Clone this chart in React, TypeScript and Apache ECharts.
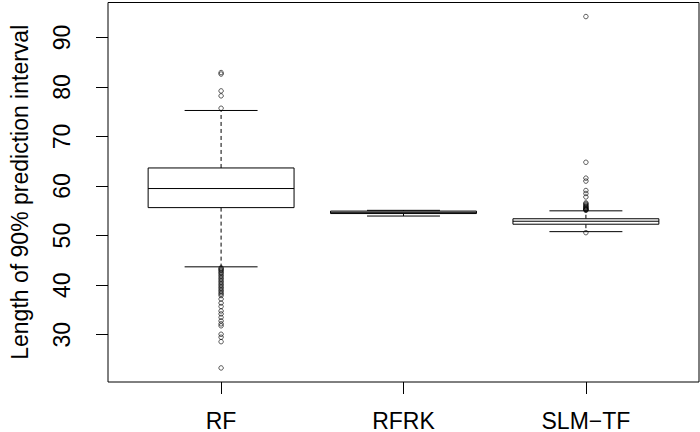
import React, { useEffect, useRef } from 'react';
import * as echarts from 'echarts';

const categories = ['RF', 'RFRK', 'SLM\u2212TF'];
// [lower whisker, Q1, median, Q3, upper whisker]
const rfStats = [43.7, 55.65, 59.5, 63.65, 75.25];
const rfrkStats = [53.95, 54.45, 54.7, 54.95, 55.1];
const slmStats = [50.8, 52.3, 52.9, 53.4, 55.0];

const rfOutliers = [
  82.9, 82.6, 79.2, 78.2, 75.7,
  43.5, 43.3, 43.1, 42.9, 42.6, 42.4, 42.1, 41.8, 41.5, 41.2, 40.9, 40.6, 40.3, 40.0,
  39.7, 39.4, 39.1, 38.8, 38.5, 38.2, 37.9, 37.2, 36.4, 35.7, 34.8, 34.2, 33.5, 32.8,
  32.2, 31.8, 30.1, 29.5, 28.6, 23.3,
];
const rfrkOutliers: number[] = [];
const slmOutliers = [
  94.2, 64.8, 61.6, 61.0, 59.1, 58.5, 57.8, 56.6, 56.4, 56.2, 56.0, 55.8, 55.7, 55.5,
  55.4, 55.3, 55.2, 55.1, 50.6,
];

const yTicks = [30, 40, 50, 60, 70, 80, 90];
const xTicks = [1, 2, 3];

const FONT = '"Liberation Sans", Arial, Helvetica, sans-serif';

export default function App() {
  const ref = useRef<HTMLDivElement>(null);
  useEffect(() => {
    if (!ref.current) return;
    const chart = echarts.init(ref.current, undefined, { renderer: 'svg' });

    const stats = [rfStats, rfrkStats, slmStats];
    const outliers = [rfOutliers, rfrkOutliers, slmOutliers];
    const all: number[] = [];
    stats.forEach((s) => all.push(...s));
    outliers.forEach((o) => all.push(...o));
    const dMin = Math.min(...all);
    const dMax = Math.max(...all);
    const ext = (dMax - dMin) * 0.04;
    const xExt = (categories.length + 0.5 - 0.5) * 0.04;

    const boxData = stats.map((s, i) => [i + 1, ...s]);
    const outlierData: number[][] = [];
    outliers.forEach((o, i) => o.forEach((v) => outlierData.push([i + 1, v])));

    const option: any = {
      animation: false,
      backgroundColor: '#fff',
      grid: {
        left: 100,
        right: 1,
        top: 2.5,
        bottom: 48.5,
        show: true,
        borderColor: '#000',
        borderWidth: 1,
        backgroundColor: 'transparent',
      },
      xAxis: {
        type: 'value',
        min: 0.5 - xExt,
        max: categories.length + 0.5 + xExt,
        splitLine: { show: false },
        axisLine: { show: false },
        axisTick: {
          show: true,
          length: 12,
          customValues: xTicks,
          lineStyle: { color: '#000', width: 1 },
        },
        axisLabel: {
          customValues: xTicks,
          formatter: (v: number) => categories[Math.round(v) - 1] ?? '',
          fontSize: 23,
          color: '#000',
          fontFamily: FONT,
          margin: 27,
        },
      },
      yAxis: {
        type: 'value',
        min: dMin - ext,
        max: dMax + ext,
        name: 'Length of 90% prediction interval',
        nameLocation: 'middle',
        nameGap: 77,
        nameTextStyle: { fontSize: 23, color: '#000', fontFamily: FONT },
        splitLine: { show: false },
        axisLine: { show: false },
        axisTick: {
          show: true,
          length: 12,
          customValues: yTicks,
          lineStyle: { color: '#000', width: 1 },
        },
        axisLabel: {
          customValues: yTicks,
          rotate: 90,
          fontSize: 23,
          color: '#000',
          fontFamily: FONT,
          margin: 35,
        },
      },
      series: [
        {
          type: 'custom',
          data: boxData,
          encode: { x: 0, y: [1, 2, 3, 4, 5] },
          renderItem: (_params: any, api: any) => {
            const x = api.value(0);
            const lo = api.coord([x, api.value(1)]);
            const q1 = api.coord([x, api.value(2)]);
            const med = api.coord([x, api.value(3)]);
            const q3 = api.coord([x, api.value(4)]);
            const hi = api.coord([x, api.value(5)]);
            const boxW = api.size([0.8, 0])[0];
            const hb = boxW / 2;
            const hc = boxW / 4;
            const cx = lo[0];
            const solid = { stroke: '#000', lineWidth: 1, fill: 'none' };
            const dashed = { stroke: '#000', lineWidth: 1, lineDash: [4, 3], fill: 'none' };
            return {
              type: 'group',
              children: [
                { type: 'line', shape: { x1: cx, y1: q3[1], x2: cx, y2: hi[1] }, style: dashed },
                { type: 'line', shape: { x1: cx, y1: q1[1], x2: cx, y2: lo[1] }, style: dashed },
                { type: 'line', shape: { x1: cx - hc, y1: hi[1], x2: cx + hc, y2: hi[1] }, style: solid },
                { type: 'line', shape: { x1: cx - hc, y1: lo[1], x2: cx + hc, y2: lo[1] }, style: solid },
                {
                  type: 'rect',
                  shape: { x: cx - hb, y: q3[1], width: boxW, height: q1[1] - q3[1] },
                  style: { stroke: '#000', lineWidth: 1, fill: '#fff' },
                },
                { type: 'line', shape: { x1: cx - hb, y1: med[1], x2: cx + hb, y2: med[1] }, style: solid },
              ],
            };
          },
        },
        {
          type: 'scatter',
          data: outlierData,
          symbol: 'circle',
          symbolSize: 4.5,
          itemStyle: { color: 'rgba(0,0,0,0)', borderColor: '#000', borderWidth: 0.8 },
        },
      ],
    };
    chart.setOption(option);
    return () => chart.dispose();
  }, []);

  return (
    <div
      ref={ref}
      style={{ position: 'absolute', left: 0, top: 0, width: 700, height: 432, background: '#fff' }}
    />
  );
}
